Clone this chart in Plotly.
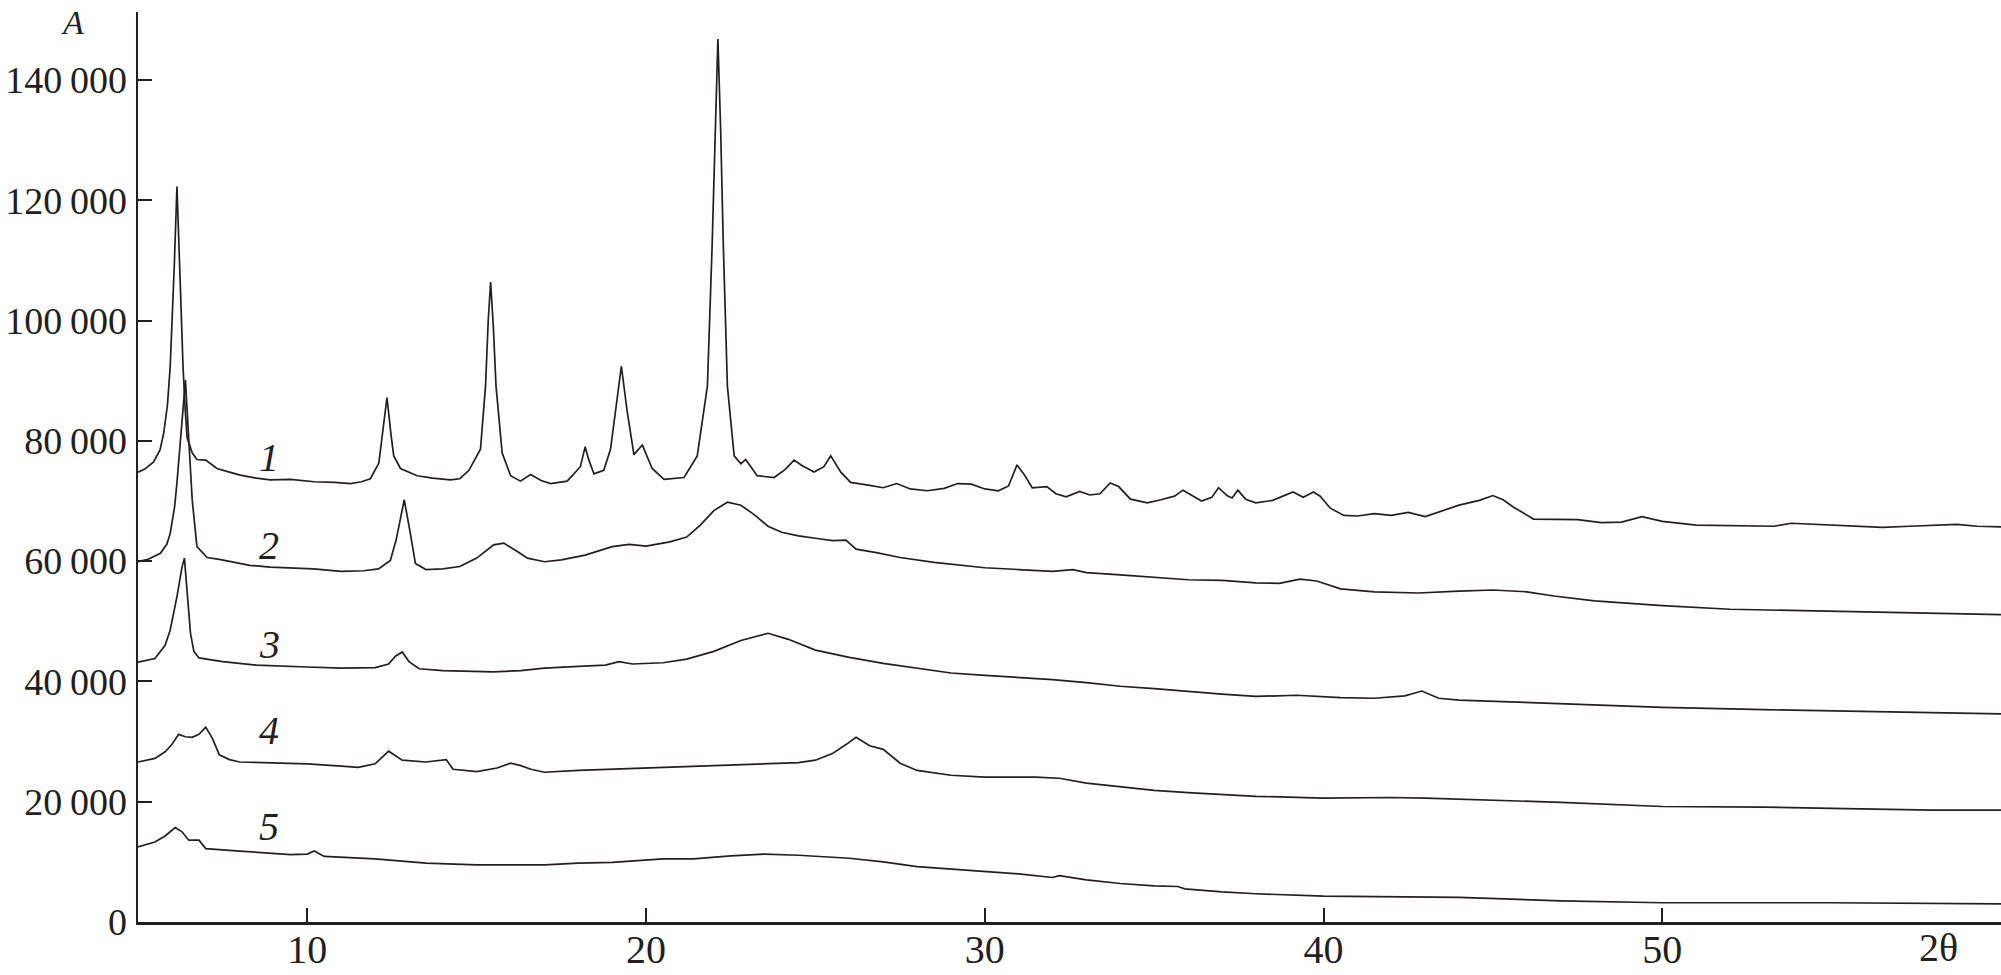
import plotly.graph_objects as go

# ---------------- data ----------------
x1 = [5.0, 5.2, 5.46, 5.65, 5.76, 5.87, 5.95, 6.02, 6.07, 6.15, 6.23, 6.28, 6.33, 6.39, 6.45, 6.6, 6.74,
      7.0, 7.33, 7.7, 8.02, 8.5, 8.9, 9.5, 10.2, 10.8, 11.27, 11.6, 11.86, 12.11, 12.25, 12.35, 12.47,
      12.55, 12.75, 13.24, 13.7, 14.22, 14.5, 14.77, 15.11, 15.26, 15.34, 15.41, 15.49, 15.57, 15.75,
      16.0, 16.29, 16.59, 16.9, 17.18, 17.67, 18.06, 18.2, 18.3, 18.46, 18.75, 18.95, 19.15, 19.27,
      19.44, 19.64, 19.89, 20.18, 20.53, 21.12, 21.51, 21.81, 21.95, 22.05, 22.12, 22.2, 22.28, 22.4,
      22.6, 22.8, 22.94, 23.28, 23.78, 24.1, 24.37, 24.6, 24.96, 25.25, 25.45, 25.75, 26.04, 26.6, 27.0,
      27.4, 27.8, 28.3, 28.8, 29.2, 29.6, 30.0, 30.4, 30.7, 30.85, 30.95, 31.15, 31.4, 31.83, 32.1, 32.4,
      32.8, 33.1, 33.4, 33.7, 33.95, 34.3, 34.8, 35.2, 35.6, 35.85, 36.1, 36.4, 36.7, 36.9, 37.15, 37.3,
      37.47, 37.7, 38.0, 38.5, 39.1, 39.4, 39.7, 39.9, 40.2, 40.6, 41.0, 41.5, 42.0, 42.5, 43.0, 43.5,
      44.0, 44.6, 45.0, 45.3, 45.6, 46.2, 47.0, 47.5, 48.2, 48.8, 49.4, 50.0, 51.0, 52.5, 53.3, 53.8,
      54.6, 55.5, 56.5, 57.3, 58.0, 58.7, 59.3, 60.0]
y1 = [74800, 75300, 76500, 78500, 81300, 86000, 92300, 101000, 108900, 122300, 108900, 100000, 92300,
      85500, 80500, 78000, 76900, 76800, 75400, 74800, 74300, 73800, 73500, 73600, 73200, 73100, 72900,
      73200, 73700, 76300, 83300, 87200, 81000, 77500, 75400, 74200, 73800, 73500, 73700, 75100, 78600,
      89100, 100000, 106400, 99000, 89100, 78000, 74200, 73300, 74400, 73400, 72900, 73300, 75700, 79000,
      77000, 74500, 75100, 78600, 86800, 92400, 85000, 77700, 79300, 75400, 73600, 73900, 77500, 89100,
      112500, 135000, 146800, 132000, 112500, 89100, 77500, 76200, 76900, 74200, 73900, 75200, 76800,
      75900, 74800, 75700, 77500, 74800, 73100, 72600, 72200, 72900, 72000, 71700, 72100, 72900, 72800,
      72000, 71700, 72500, 74600, 76000, 74500, 72200, 72400, 71200, 70700, 71600, 71000, 71200, 73000,
      72400, 70300, 69700, 70200, 70800, 71800, 71000, 70000, 70600, 72200, 70900, 70500, 71800, 70300,
      69700, 70100, 71500, 70600, 71500, 70800, 68800, 67600, 67500, 67900, 67600, 68100, 67400, 68300,
      69300, 70100, 70900, 70200, 69000, 67000, 67000, 66900, 66400, 66500, 67400, 66600, 66000, 65900,
      65800, 66300, 66100, 65900, 65600, 65800, 65900, 66100, 65800, 65700]

x2 = [5.0, 5.3, 5.66, 5.85, 5.95, 6.08, 6.15, 6.3, 6.4, 6.5, 6.6, 6.74, 7.04, 7.4, 7.73, 8.3, 8.9, 9.5,
      10.18, 11.0, 11.66, 12.1, 12.45, 12.62, 12.74, 12.86, 13.04, 13.19, 13.5, 14.0, 14.5, 15.0, 15.5,
      15.8, 16.2, 16.5, 17.0, 17.5, 18.2, 19.0, 19.5, 20.0, 20.7, 21.2, 21.6, 22.0, 22.4, 22.8, 23.2, 23.6,
      24.0, 24.5, 25.0, 25.5, 25.9, 26.2, 26.8, 27.5, 28.5, 29.3, 30.0, 31.0, 32.0, 32.6, 33.0, 34.0, 35.0,
      36.0, 37.0, 38.0, 38.7, 39.3, 39.8, 40.5, 41.5, 42.8, 44.0, 45.0, 46.0, 46.8, 48.0, 50.0, 52.0, 55.0,
      58.0, 60.0]
y2 = [59900, 60300, 61300, 62800, 64600, 69000, 73000, 84000, 90100, 80100, 70200, 62400, 60600, 60300,
      59900, 59300, 59000, 58900, 58700, 58300, 58400, 58700, 60100, 63500, 66800, 70200, 64600, 59600,
      58600, 58700, 59100, 60500, 62700, 63000, 61600, 60500, 59900, 60200, 61000, 62400, 62800, 62500,
      63200, 64000, 66000, 68400, 69800, 69300, 67700, 65800, 64800, 64200, 63800, 63400, 63500, 62000,
      61400, 60600, 59800, 59300, 58900, 58600, 58300, 58600, 58100, 57700, 57300, 56900, 56800, 56400,
      56300, 57000, 56700, 55400, 54900, 54700, 55000, 55200, 54900, 54200, 53400, 52600, 52000, 51700,
      51300, 51100]

x3 = [5.0, 5.5, 5.8, 5.95, 6.15, 6.3, 6.37, 6.45, 6.55, 6.65, 6.8, 7.5, 8.5, 10.0, 11.0, 12.0, 12.4, 12.6,
      12.8, 13.0, 13.3, 14.0, 15.5, 16.3, 17.0, 18.0, 18.8, 19.2, 19.6, 20.5, 21.2, 22.0, 22.8, 23.6, 24.2,
      25.0, 26.0, 27.0, 28.0, 29.0, 30.0, 31.0, 32.0, 33.0, 34.0, 35.0, 36.0, 37.0, 38.0, 39.2, 40.5, 41.5,
      42.4, 42.9, 43.4, 44.0, 45.5, 47.0, 50.0, 53.0, 56.0, 60.0]
y3 = [43200, 43800, 46000, 48500, 54100, 59000, 60500, 55000, 48000, 45000, 43900, 43300, 42700, 42400,
      42200, 42300, 42900, 44200, 44900, 43300, 42100, 41800, 41600, 41800, 42200, 42500, 42700, 43300,
      42900, 43100, 43700, 45000, 46800, 48000, 47000, 45200, 44000, 43000, 42200, 41400, 41000, 40700,
      40300, 39800, 39200, 38800, 38300, 37900, 37500, 37700, 37300, 37200, 37600, 38400, 37200, 36900,
      36600, 36300, 35700, 35300, 35000, 34600]

x4 = [5.0, 5.5, 5.8, 6.0, 6.2, 6.4, 6.6, 6.8, 7.0, 7.2, 7.4, 7.7, 8.0, 9.0, 10.0, 11.0, 11.5, 12.0, 12.4,
      12.8, 13.5, 14.1, 14.3, 15.0, 15.6, 16.0, 16.3, 16.6, 17.0, 18.0, 19.0, 20.0, 21.4, 22.5, 23.5, 24.5,
      25.0, 25.5, 25.9, 26.2, 26.6, 27.0, 27.5, 28.0, 29.0, 30.0, 31.5, 32.2, 33.0, 34.0, 35.0, 36.0, 38.0,
      40.0, 42.0, 43.0, 45.0, 47.0, 50.0, 53.0, 55.0, 58.0, 60.0]
y4 = [26600, 27200, 28300, 29500, 31200, 30800, 30700, 31200, 32400, 30500, 27800, 27000, 26600, 26500,
      26300, 25900, 25700, 26300, 28400, 26900, 26600, 27000, 25400, 25000, 25600, 26400, 26000, 25400,
      24900, 25200, 25400, 25600, 25900, 26100, 26300, 26500, 26900, 28000, 29500, 30700, 29300, 28700,
      26400, 25200, 24400, 24100, 24100, 23900, 23100, 22500, 21900, 21500, 20900, 20600, 20700, 20600,
      20300, 19900, 19200, 19100, 18900, 18600, 18600]

x5 = [5.0, 5.5, 5.8, 6.1, 6.3, 6.5, 6.8, 7.0, 8.0, 9.5, 10.0, 10.2, 10.5, 12.0, 13.5, 15.0, 17.0, 18.0,
      19.0, 20.5, 21.4, 22.5, 23.5, 24.5, 26.0, 27.0, 28.0, 29.0, 30.0, 31.0, 32.0, 32.2, 33.0, 34.0, 35.0,
      35.7, 35.9, 37.0, 38.0, 40.0, 44.0, 47.0, 50.0, 55.0, 60.0]
y5 = [12500, 13300, 14300, 15700, 15000, 13600, 13600, 12200, 11800, 11200, 11300, 11800, 10900, 10500,
      9800, 9500, 9500, 9800, 9900, 10500, 10500, 11000, 11300, 11100, 10600, 10000, 9200, 8800, 8400,
      8000, 7400, 7700, 7000, 6400, 6000, 5900, 5500, 5000, 4700, 4300, 4100, 3500, 3200, 3200, 3000]

curve_labels = ["1", "2", "3", "4", "5"]
label_x = [8.88, 8.88, 8.88, 8.88, 8.88]
label_y = [77300, 62600, 46100, 31900, 15800]

y_tick_vals = [0, 20000, 40000, 60000, 80000, 100000, 120000, 140000]
y_tick_text = ["0", "20\u2009000", "40\u2009000", "60\u2009000", "80\u2009000",
               "100\u2009000", "120\u2009000", "140\u2009000"]
x_tick_vals = [10, 20, 30, 40, 50]
x_tick_text = ["10", "20", "30", "40", "50"]
x_title = "2θ"
y_title = "A"

# ---------------- figure ----------------
INK = "#231f20"
FONT = "Liberation Serif"

fig = go.Figure()
for xs, ys in [(x1, y1), (x2, y2), (x3, y3), (x4, y4), (x5, y5)]:
    fig.add_trace(go.Scatter(x=xs, y=ys, mode="lines",
                             line=dict(color=INK, width=1.7),
                             showlegend=False, hoverinfo="skip"))

for t, lx, ly in zip(curve_labels, label_x, label_y):
    fig.add_annotation(x=lx, y=ly, xref="x", yref="y", text=f"<i>{t}</i>",
                       showarrow=False, font=dict(family=FONT, size=40, color=INK),
                       xanchor="center", yanchor="middle")

fig.add_annotation(x=-0.0349, y=0.988, xref="paper", yref="paper", text=f"<i>{y_title}</i>",
                   showarrow=False, font=dict(family=FONT, size=34, color=INK),
                   xanchor="center", yanchor="middle")
fig.add_annotation(x=58.15, y=-0.028, xref="x", yref="paper", text=x_title,
                   showarrow=False, font=dict(family=FONT, size=40, color=INK),
                   xanchor="center", yanchor="middle")

fig.update_layout(
    width=2001, height=975,
    margin=dict(l=138, r=0, t=12, b=53, autoexpand=False),
    paper_bgcolor="white", plot_bgcolor="white",
    font=dict(family=FONT, color=INK, size=40),
)
fig.update_xaxes(range=[5, 60], showgrid=False, zeroline=False, automargin=False,
                 showline=True, linecolor=INK, linewidth=2.5,
                 ticks="inside", ticklen=14, tickwidth=2, tickcolor=INK,
                 tickvals=x_tick_vals, ticktext=x_tick_text,
                 ticklabelstandoff=-10,
                 tickfont=dict(family=FONT, size=40, color=INK))
fig.update_yaxes(range=[0, 151300], showgrid=False, zeroline=False, automargin=False,
                 showline=True, linecolor=INK, linewidth=2.5,
                 ticks="inside", ticklen=14, tickwidth=2, tickcolor=INK,
                 tickvals=y_tick_vals, ticktext=y_tick_text,
                 ticklabelstandoff=1,
                 tickfont=dict(family=FONT, size=38, color=INK))

# remove the default 8px page margin so the figure fills the window exactly
fig.write_html("out.html",
               config={"displayModeBar": False, "staticPlot": True},
               post_script="document.body.style.margin='0';document.body.style.overflow='hidden';")
